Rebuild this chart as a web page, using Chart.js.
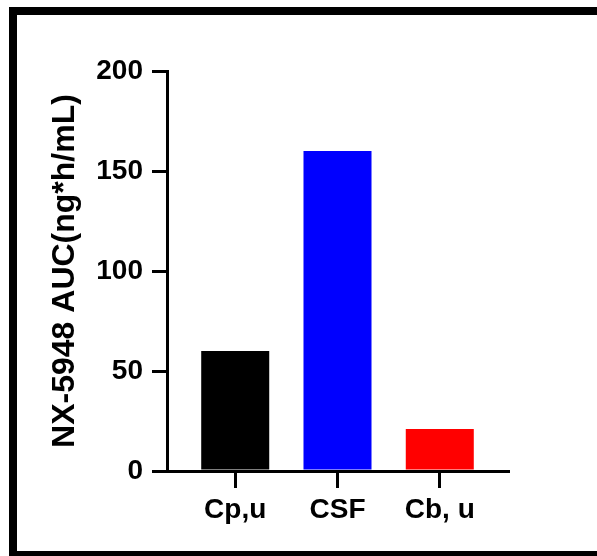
<!DOCTYPE html>
<html lang="en">
<head>
  <meta charset="UTF-8">
  <title>NX-5948 AUC</title>
  <script src="https://cdn.jsdelivr.net/npm/chart.js@4.4.4/dist/chart.umd.min.js"></script>
  <style>
    html, body {
      margin: 0;
      padding: 0;
      background: #fff;
      overflow: hidden;
    }
    #wrap {
      position: relative;
      width: 597px;
      height: 556px;
    }
    #frame {
      position: absolute;
      left: 9px;
      top: 7px;
      width: 700px;
      height: 552px;
      box-sizing: border-box;
      border-left: 8px solid #000;
      border-top: 8px solid #000;
      border-bottom: 8px solid #000;
      pointer-events: none;
    }
    canvas { position: absolute; left: 0; top: 0; }
  </style>
</head>
<body>
  <div id="wrap">
    <canvas id="auc" width="597" height="556"></canvas>
    <div id="frame"></div>
  </div>
  <script>
    // data
    const categories = ['Cp,u', 'CSF', 'Cb, u'];
    const aucValues = [60, 160, 21];
    const barColors = ['#000000', '#0000ff', '#ff0000'];
    const yTicks = [0, 50, 100, 150, 200];

    const FONT = '"Liberation Sans", Arial, sans-serif';
    const sidePad = 0.667; // empty room left/right of the bars, in category units

    new Chart(document.getElementById('auc'), {
      type: 'bar',
      data: {
        datasets: [{
          data: categories.map((c, i) => ({ x: i, y: aucValues[i] })),
          backgroundColor: barColors,
          borderWidth: 0,
          barPercentage: 0.665,
          categoryPercentage: 1
        }]
      },
      options: {
        responsive: false,
        animation: false,
        devicePixelRatio: 1,
        layout: { padding: { top: 71, right: 89, bottom: 0, left: 0 } },
        plugins: {
          legend: { display: false },
          tooltip: { enabled: false }
        },
        scales: {
          x: {
            type: 'linear',
            offset: false,
            min: -sidePad,
            max: categories.length - 1 + sidePad,
            afterBuildTicks: s => { s.ticks = categories.map((c, i) => ({ value: i })); },
            afterFit: s => { s.height = 85; },
            grid: {
              offset: false,
              drawOnChartArea: false,
              color: '#000',
              lineWidth: 3,
              tickLength: 17
            },
            border: { display: true, color: '#000', width: 3 },
            ticks: {
              color: '#000',
              padding: 5,
              maxRotation: 0,
              autoSkip: false,
              font: { family: FONT, size: 28, weight: 'bold' },
              callback: v => categories[v]
            }
          },
          y: {
            min: yTicks[0],
            max: yTicks[yTicks.length - 1],
            afterBuildTicks: s => { s.ticks = yTicks.map(v => ({ value: v })); },
            afterFit: s => { s.width = 167; },
            grid: {
              drawOnChartArea: false,
              color: '#000',
              lineWidth: 3,
              tickLength: 15
            },
            border: { display: true, color: '#000', width: 3 },
            ticks: {
              color: '#000',
              padding: 9,
              font: { family: FONT, size: 28, weight: 'bold' }
            },
            title: {
              display: true,
              text: 'NX-5948 AUC(ng*h/mL)',
              color: '#000',
              padding: { top: 46, bottom: 0 },
              font: { family: FONT, size: 32, weight: 'bold' }
            }
          }
        }
      }
    });
  </script>
</body>
</html>
